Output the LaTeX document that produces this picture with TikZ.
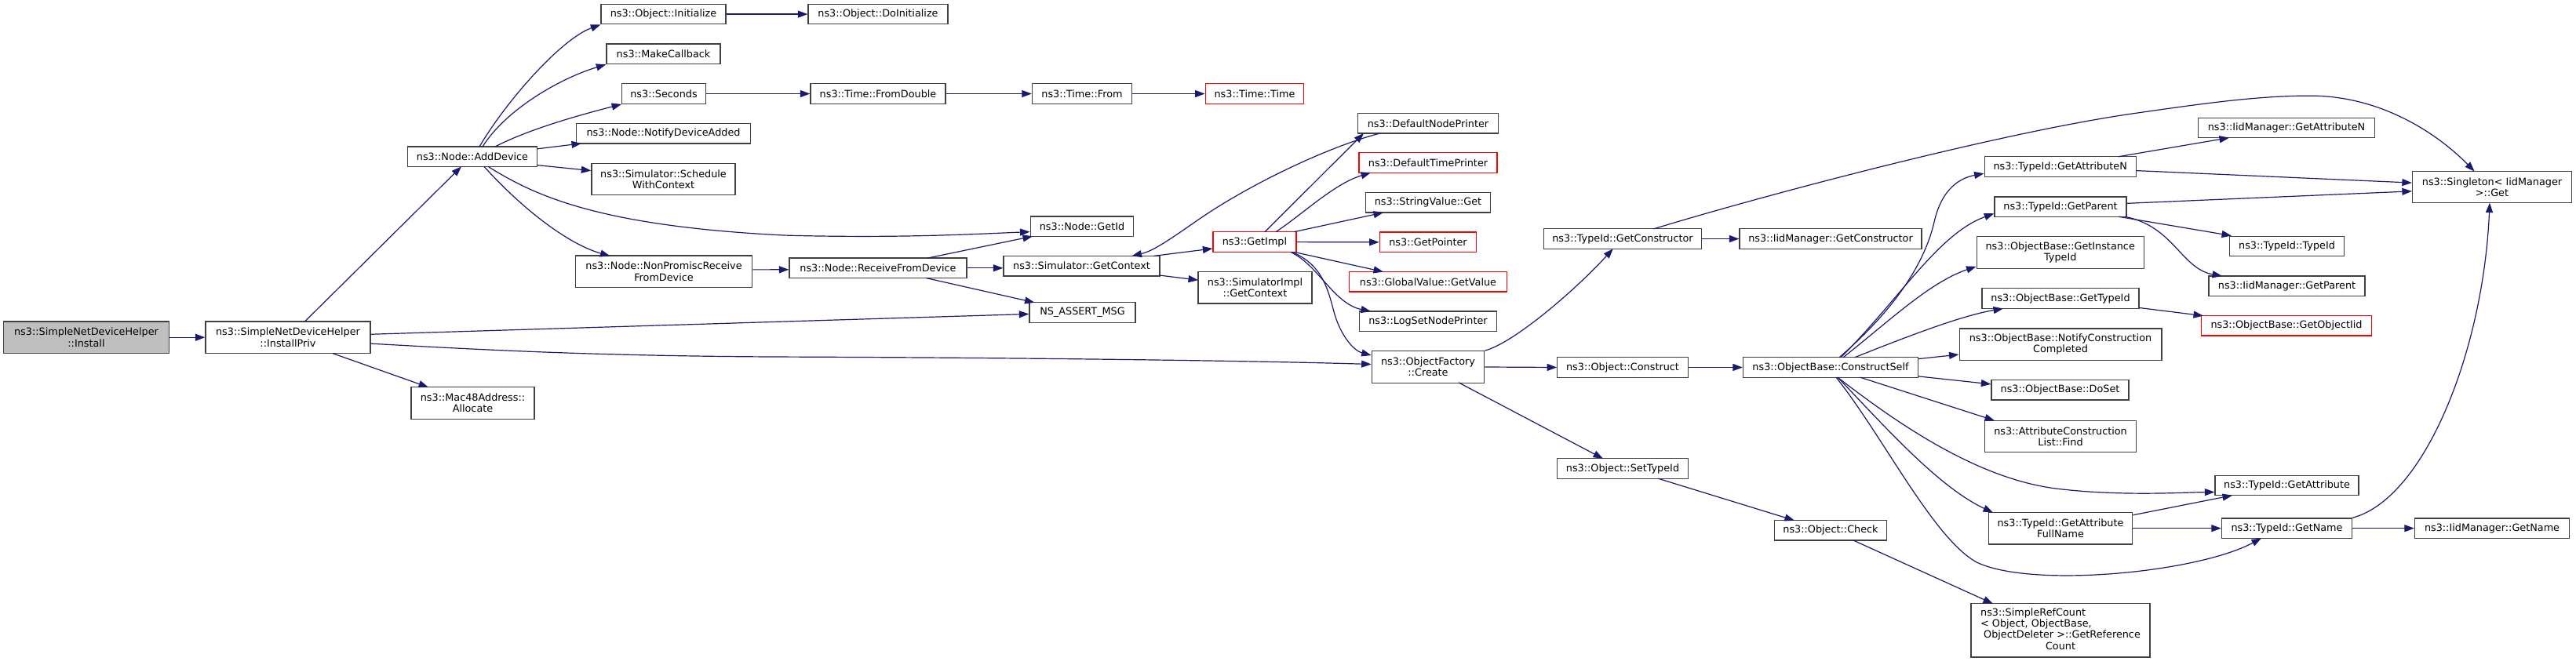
\documentclass[tikz,border=0pt]{standalone}
\usepackage{fontspec}
\newfontfamily\dvs{DejaVu Sans}
\usetikzlibrary{arrows.meta,calc}
\definecolor{edgec}{HTML}{191970}
\definecolor{bordc}{HTML}{404040}
\definecolor{redc}{HTML}{FF0000}
\definecolor{mainfill}{HTML}{BFBFBF}
\tikzset{
  fn/.style={draw=bordc, line width=1.3pt, fill=white, inner sep=0pt, align=center,
    font=\dvs\fontsize{12.8}{14.4}\selectfont, text=black, minimum height=25.5pt},
  two/.style={minimum height=40.5pt},
  redfn/.style={fn, draw=redc},
  call/.style={draw=edgec, line width=1.2pt, -{Triangle[length=12.5pt,width=9pt]}},
}
\begin{document}
\begin{tikzpicture}[x=1pt,y=-0.9936pt]
\useasboundingbox (0,0) rectangle (3283,852.5);
% column 0-1
\node[fn, two, fill=mainfill, minimum width=211pt] (install) at (110,433) {ns3::SimpleNetDeviceHelper\\::Install};
\node[fn, two, minimum width=210pt] (installpriv) at (367,433) {ns3::SimpleNetDeviceHelper\\::InstallPriv};
% column 2
\node[fn, minimum width=165pt] (adddevice) at (602,201) {ns3::Node::AddDevice};
\node[fn, two, minimum width=157pt] (mac48) at (602.5,517.3) {ns3::Mac48Address::\\Allocate};
% column 3
\node[fn, minimum width=159pt] (initialize) at (845.5,18.2) {ns3::Object::Initialize};
\node[fn, minimum width=145pt] (makecallback) at (845.5,69.3) {ns3::MakeCallback};
\node[fn, minimum width=106.5pt] (seconds) at (846,120.3) {ns3::Seconds};
\node[fn, minimum width=222pt] (notify) at (845.5,171.3) {ns3::Node::NotifyDeviceAdded};
\node[fn, two, minimum width=183pt] (schedule) at (845.5,230) {ns3::Simulator::Schedule\\WithContext};
\node[fn, two, minimum width=225.6pt] (nonpromisc) at (846,348.6) {ns3::Node::NonPromiscReceive\\FromDevice};
% column 4
\node[fn, minimum width=178pt] (doinit) at (1119,18.2) {ns3::Object::DoInitialize};
\node[fn, minimum width=172pt] (fromdouble) at (1119,120.3) {ns3::Time::FromDouble};
\node[fn, minimum width=226pt] (receive) at (1119,344) {ns3::Node::ReceiveFromDevice};
% column 5
\node[fn, minimum width=127pt] (timefrom) at (1379,120.3) {ns3::Time::From};
\node[fn, minimum width=131.6pt] (getid) at (1379,290.5) {ns3::Node::GetId};
\node[fn, minimum width=199pt] (simgetcontext) at (1378.5,341.3) {ns3::Simulator::GetContext};
\node[fn, minimum width=135pt] (nsassert) at (1379.5,401) {NS\_ASSERT\_MSG};
% column 6
\node[redfn, minimum width=125.6pt] (timetime) at (1599,120.3) {ns3::Time::Time};
\node[redfn, minimum width=106pt, minimum height=26pt] (getimpl) at (1599,310.6) {ns3::GetImpl};
\node[fn, two, minimum width=145pt] (simimplgetcontext) at (1599.5,369) {ns3::SimulatorImpl\\::GetContext};
% column 7
\node[fn, minimum width=178.6pt] (defnodeprinter) at (1820,158.3) {ns3::DefaultNodePrinter};
\node[redfn, minimum width=176pt] (deftimeprinter) at (1820,208.8) {ns3::DefaultTimePrinter};
\node[fn, minimum width=158.6pt] (stringget) at (1820,260) {ns3::StringValue::Get};
\node[redfn, minimum width=123.4pt] (getpointer) at (1820,310.8) {ns3::GetPointer};
\node[redfn, minimum width=201pt] (globalgetvalue) at (1820,361.6) {ns3::GlobalValue::GetValue};
\node[fn, minimum width=175pt] (logset) at (1820,412.3) {ns3::LogSetNodePrinter};
\node[fn, two, minimum width=143.4pt] (create) at (1820,471) {ns3::ObjectFactory\\::Create};
% column 8
\node[fn, minimum width=201.5pt] (getconstructor) at (2068,306.5) {ns3::TypeId::GetConstructor};
\node[fn, minimum width=166.4pt] (construct) at (2068,471.5) {ns3::Object::Construct};
\node[fn, minimum width=167.5pt] (settypeid) at (2068,601.3) {ns3::Object::SetTypeId};
% column 9
\node[fn, minimum width=232pt] (iidgetconstructor) at (2333,306.5) {ns3::IidManager::GetConstructor};
\node[fn, minimum width=223pt] (constructself) at (2333,471.5) {ns3::ObjectBase::ConstructSelf};
\node[fn, minimum width=142.6pt] (check) at (2333,680.7) {ns3::Object::Check};
% column 10
\node[fn, minimum width=193pt, minimum height=26pt] (getattributen) at (2625.7,214) {ns3::TypeId::GetAttributeN};
\node[fn, minimum width=168pt] (getparent) at (2626,265.3) {ns3::TypeId::GetParent};
\node[fn, two, minimum width=213pt] (getinstancetypeid) at (2625.7,324) {ns3::ObjectBase::GetInstance\\TypeId};
\node[fn, minimum width=200pt, minimum height=26pt] (obgettypeid) at (2626,383) {ns3::ObjectBase::GetTypeId};
\node[fn, two, minimum width=257.7pt] (notifycc) at (2626,442) {ns3::ObjectBase::NotifyConstruction\\Completed};
\node[fn, minimum width=175pt] (doset) at (2625.5,500.3) {ns3::ObjectBase::DoSet};
\node[fn, two, minimum width=192.5pt] (aclfind) at (2626,560) {ns3::AttributeConstruction\\List::Find};
\node[fn, two, minimum width=183.5pt] (getattrfullname) at (2626,678) {ns3::TypeId::GetAttribute\\FullName};
\node[fn, minimum width=228pt, minimum height=68.5pt] (simplerefcount) at (2626,809) {\begin{tabular}{@{}l@{}}ns3::SimpleRefCount\\< Object, ObjectBase,\\\ ObjectDeleter >::GetReference\\\multicolumn{1}{@{}c@{}}{Count}\end{tabular}};
% column 11
\node[fn, minimum width=224.5pt] (iidgetattributen) at (2914,164) {ns3::IidManager::GetAttributeN};
\node[fn, minimum width=145.7pt] (typeidtypeid) at (2914.5,316) {ns3::TypeId::TypeId};
\node[fn, minimum width=199pt] (iidgetparent) at (2914.5,367) {ns3::IidManager::GetParent};
\node[redfn, minimum width=216.7pt] (getobjectiid) at (2914,418) {ns3::ObjectBase::GetObjectIid};
\node[fn, minimum width=183pt] (getattribute) at (2914.5,623) {ns3::TypeId::GetAttribute};
\node[fn, minimum width=166pt] (getname) at (2914.5,678) {ns3::TypeId::GetName};
% column 12
\node[fn, two, minimum width=203pt] (singleton) at (3176,240) {ns3::Singleton< IidManager\\>::Get};
\node[fn, minimum width=197pt] (iidgetname) at (3176,678) {ns3::IidManager::GetName};

% edges
\draw[call] (install.east) -- (installpriv.west);
\draw[call] ($(installpriv)+(21.6,-20.5)$) -- ($(adddevice)+(-14,12.75)$);
\draw[call] ($(installpriv.east)+(0,-4)$) -- ($(nsassert.west)+(0,2)$);
\draw[call] ($(installpriv.east)+(0,8)$) .. controls (600,448) and (750,457) .. (1000,458) .. controls (1300,459) and (1600,463) .. ($(create.west)+(0,-3.5)$);
\draw[call] ($(installpriv)+(57,20.5)$) -- ($(mac48)+(-56.5,-20.3)$);

\draw[call] ($(adddevice)+(9,-12.75)$) .. controls (645,130) and (715,50) .. (initialize.south west);
\draw[call] ($(adddevice)+(13,-12.75)$) .. controls (645,140) and (715,100) .. (makecallback.south west);
\draw[call] ($(adddevice)+(29,-12.75)$) .. controls (675,165) and (745,146) .. (seconds.south west);
\draw[call] ($(adddevice.east)+(0,-10)$) -- ($(notify)+(-104.5,12.75)$);
\draw[call] ($(adddevice.east)+(0,11)$) -- ($(schedule.west)+(0,-11)$);
\draw[call] ($(adddevice)+(20,12.75)$) .. controls (680,250) and (760,290) .. (1000,302) .. controls (1150,306) and (1250,300) .. ($(getid.west)+(0,7)$);
\draw[call] ($(adddevice)+(15,12.75)$) .. controls (660,262) and (720,312) .. ($(nonpromisc)+(-68.5,-20)$);

\draw[call] (initialize.east) -- (doinit.west);
\draw[call] (seconds.east) -- (fromdouble.west);
\draw[call] ($(nonpromisc.east)+(0,-2.5)$) -- ($(receive.west)+(0,2)$);
\draw[call] (fromdouble.east) -- (timefrom.west);
\draw[call] (timefrom.east) -- (timetime.west);

\draw[call] ($(receive)+(63,-12.75)$) -- ($(getid)+(-63,12.75)$);
\draw[call] (receive.east) -- (receive.east -| simgetcontext.west);
\draw[call] ($(receive)+(61,12.75)$) -- ($(nsassert)+(-61,-12.75)$);

\draw[call] ($(simgetcontext)+(91.5,-12.75)$) -- ($(getimpl.west)+(0,8.4)$);
\draw[call] ($(simgetcontext)+(99.5,12)$) -- ($(simimplgetcontext)+(-72.5,-9.5)$);

\draw[call] ($(getimpl)+(13,-13)$) -- ($(defnodeprinter)+(-82,12.75)$);
\draw[call] ($(getimpl)+(27,-13)$) .. controls (1660,275) and (1700,236) .. ($(deftimeprinter)+(-73,12.75)$);
\draw[call] ($(getimpl)+(50,-13)$) -- ($(stringget)+(-57,12.75)$);
\draw[call] (getimpl.east) -- (getpointer.west);
\draw[call] ($(getimpl)+(51,13)$) -- ($(globalgetvalue)+(-57,-12.75)$);
\draw[call] ($(getimpl)+(46,13)$) .. controls (1680,340) and (1700,390) .. ($(logset)+(-73,-12.75)$);
\draw[call] ($(getimpl)+(48,13)$) .. controls (1685,340) and (1692,370) .. (1700,400) .. controls (1708,430) and (1725,450) .. ($(create.west)+(0,-15)$);

\draw[call] ($(defnodeprinter)+(-61,12.75)$) .. controls (1700,186) and (1600,232) .. (1530,280) .. controls (1490,308) and (1470,322) .. ($(simgetcontext)+(64,-12.75)$);

\draw[call] (create.north east) .. controls (1930,440) and (2010,370) .. ($(getconstructor)+(-12.3,12.75)$);
\draw[call] (create.east) -- (construct.west);
\draw[call] ($(create)+(39,20)$) -- ($(settypeid)+(-25,-12.75)$);

\draw[call] (getconstructor.east) -- (iidgetconstructor.west);
\draw[call] ($(getconstructor)+(39.5,-12.75)$) .. controls (2250,250) and (2550,170) .. (2720,145.5) .. controls (2800,134) and (2880,122) .. (2950,123) .. controls (3040,125) and (3110,175) .. ($(singleton)+(-22.4,-20)$);
\draw[call] (construct.east) -- (constructself.west);
\draw[call] ($(settypeid)+(45,12.75)$) -- ($(check)+(-46,-12.75)$);
\draw[call] ($(check)+(29,12.75)$) -- ($(simplerefcount)+(-86,-34.25)$);

\draw[call] ($(constructself)+(11,-12.75)$) .. controls (2400,410) and (2450,350) .. (2465,285) .. controls (2475,240) and (2500,228) .. ($(getattributen.west)+(0,8.6)$);
\draw[call] ($(constructself)+(13,-12.75)$) .. controls (2420,385) and (2470,300) .. ($(getparent.west)+(0,8.7)$);
\draw[call] ($(constructself)+(16,-12.75)$) .. controls (2410,410) and (2460,362) .. ($(getinstancetypeid.west)+(0,18)$);
\draw[call] ($(constructself)+(30.6,-12.75)$) .. controls (2430,432) and (2500,405) .. ($(obgettypeid)+(-73,13)$);
\draw[call] ($(constructself.east)+(0,-11)$) -- ($(notifycc.west)+(0,13)$);
\draw[call] ($(constructself.east)+(0,11.5)$) -- ($(doset.west)+(0,-7.3)$);
\draw[call] ($(constructself)+(37.7,12.75)$) -- ($(aclfind)+(-84,-20.25)$);
\draw[call] ($(constructself)+(9,12.75)$) .. controls (2420,545) and (2520,614) .. (2620,627) .. controls (2700,637) and (2780,632) .. ($(getattribute.west)+(0,8.5)$);
\draw[call] ($(constructself)+(9,12.75)$) .. controls (2400,545) and (2470,625) .. ($(getattrfullname)+(-86,-20.25)$);
\draw[call] ($(constructself)+(7,12.75)$) .. controls (2400,560) and (2465,693) .. (2520,722) .. controls (2590,755) and (2800,735) .. ($(getname)+(-32.5,12.75)$);

\draw[call] ($(getattributen)+(74.3,-13)$) -- ($(iidgetattributen)+(-73,12.75)$);
\draw[call] ($(getattributen.east)+(0,5)$) -- ($(singleton.west)+(0,-5.4)$);
\draw[call] ($(getparent.east)+(0,-4.3)$) -- ($(singleton.west)+(0,5.4)$);
\draw[call] ($(getparent)+(74,12.75)$) -- ($(typeidtypeid.north west)+(3,0)$);
\draw[call] ($(getparent)+(82,12.75)$) .. controls (2770,290) and (2780,345) .. ($(iidgetparent)+(-82.5,-12.75)$);
\draw[call] ($(obgettypeid.east)+(0,12)$) -- ($(getobjectiid)+(-106,-12.75)$);
\draw[call] ($(getattrfullname.east)+(0,-17)$) -- ($(getattribute)+(-69.5,12.75)$);
\draw[call] (getattrfullname.east) -- (getname.west);
\draw[call] (getname.north east) .. controls (3090,640) and (3165,450) .. ($(singleton)+(-3,20.25)$);
\draw[call] (getname.east) -- (iidgetname.west);
\end{tikzpicture}
\end{document}
